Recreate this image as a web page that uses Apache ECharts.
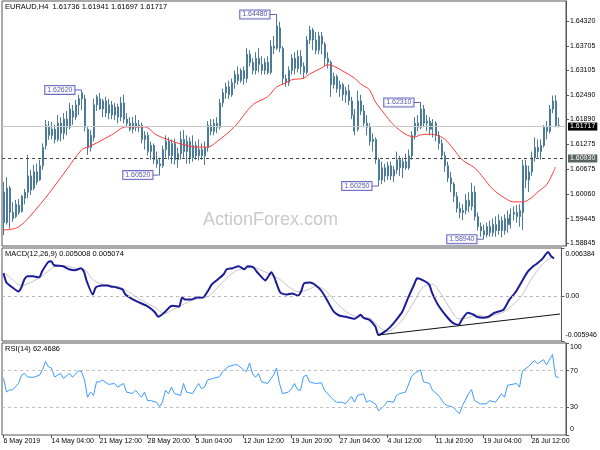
<!DOCTYPE html>
<html><head><meta charset="utf-8">
<script src="https://cdn.jsdelivr.net/npm/echarts@6/dist/echarts.min.js"></script>
<style>html,body{margin:0;padding:0;background:#fff}#c{width:600px;height:450px}</style>
</head><body><div id="c"></div><script>
// ---------- data ----------
const symbolName = 'EURAUD,H4';
const lastOHLC = ['1.61736', '1.61941', '1.61697', '1.61717'];
const macdTitle = 'MACD(12,26,9)';
const macdLast = ['0.005008', '0.005074'];
const rsiTitle = 'RSI(14)';
const rsiLast = '62.4686';
const watermark = 'ActionForex.com';

const xTickLabels = ['6 May 2019', '14 May 04:00', '21 May 12:00', '28 May 20:00', '5 Jun 04:00', '12 Jun 12:00',
  '19 Jun 20:00', '27 Jun 04:00', '4 Jul 12:00', '11 Jul 20:00', '19 Jul 04:00', '26 Jul 12:00'];
const barsPerLabel = 16;
const categoryCount = 188;

const priceTicks = [1.64320, 1.63705, 1.63105, 1.62490, 1.61890, 1.61275, 1.60675, 1.60060, 1.59445, 1.58845];
const priceMin = 1.58772, priceMax = 1.64813;
const levelLine = 1.60930;
const lastPrice = 1.61717;

const macdTicks = [-0.005946, 0, 0.006384];
const rsiTicks = [0, 30, 70, 100];
const rsiLevels = [30, 70];

// open, close, low, high
const ohlc = [
[1.6010,1.5935,1.5904,1.6035],[1.5935,1.6020,1.5930,1.6047],[1.6020,1.5960,1.5920,1.6025],[1.5960,1.5945,1.5937,1.5985],
[1.5950,1.5980,1.5946,1.5991],[1.5978,1.5960,1.5954,1.5993],[1.5962,1.6000,1.5960,1.6003],[1.5995,1.6010,1.5980,1.6018],
[1.6010,1.6050,1.5995,1.6102],[1.6050,1.6015,1.6003,1.6065],[1.6020,1.6060,1.6015,1.6077],[1.6060,1.6035,1.6028,1.6080],
[1.6040,1.6075,1.6038,1.6090],[1.6075,1.6120,1.6065,1.6130],[1.6125,1.6175,1.6115,1.6188],[1.6170,1.6150,1.6139,1.6185],
[1.6150,1.6165,1.6140,1.6183],[1.6165,1.6140,1.6130,1.6176],[1.6140,1.6180,1.6135,1.6200],[1.6180,1.6155,1.6135,1.6195],
[1.6155,1.6190,1.6140,1.6205],[1.6190,1.6170,1.6150,1.6210],[1.6170,1.6215,1.6165,1.6230],[1.6210,1.6195,1.6176,1.6225],
[1.6195,1.6225,1.6188,1.6237],[1.6225,1.6240,1.6200,1.6250],[1.6240,1.6255,1.6213,1.6262],[1.6240,1.6170,1.6160,1.6250],
[1.6165,1.6120,1.6102,1.6170],[1.6120,1.6150,1.6110,1.6163],[1.6145,1.6225,1.6135,1.6240],[1.6225,1.6245,1.6210,1.6250],
[1.6240,1.6215,1.6213,1.6255],[1.6215,1.6235,1.6195,1.6240],[1.6235,1.6205,1.6195,1.6245],[1.6205,1.6225,1.6190,1.6240],
[1.6225,1.6200,1.6190,1.6235],[1.6200,1.6220,1.6188,1.6230],[1.6220,1.6195,1.6180,1.6228],[1.6195,1.6230,1.6185,1.6245],
[1.6230,1.6190,1.6180,1.6250],[1.6190,1.6180,1.6172,1.6205],[1.6180,1.6165,1.6160,1.6195],[1.6165,1.6180,1.6155,1.6195],
[1.6180,1.6170,1.6160,1.6200],[1.6170,1.6175,1.6158,1.6188],[1.6175,1.6140,1.6130,1.6182],[1.6140,1.6150,1.6115,1.6160],
[1.6150,1.6110,1.6100,1.6158],[1.6110,1.6125,1.6090,1.6135],[1.6125,1.6090,1.6080,1.6130],[1.6090,1.6080,1.6070,1.6110],
[1.6080,1.6075,1.6052,1.6095],[1.6075,1.6115,1.6070,1.6125],[1.6115,1.6135,1.6095,1.6150],[1.6135,1.6100,1.6090,1.6145],
[1.6100,1.6130,1.6080,1.6140],[1.6130,1.6090,1.6078,1.6142],[1.6090,1.6105,1.6070,1.6120],[1.6105,1.6140,1.6090,1.6160],
[1.6140,1.6110,1.6095,1.6163],[1.6110,1.6135,1.6080,1.6150],[1.6135,1.6095,1.6080,1.6145],[1.6095,1.6125,1.6085,1.6150],
[1.6125,1.6100,1.6090,1.6135],[1.6100,1.6115,1.6088,1.6140],[1.6115,1.6100,1.6090,1.6130],[1.6100,1.6120,1.6077,1.6135],
[1.6120,1.6175,1.6110,1.6185],[1.6175,1.6160,1.6150,1.6190],[1.6160,1.6180,1.6150,1.6190],[1.6180,1.6170,1.6155,1.6195],
[1.6170,1.6230,1.6165,1.6240],[1.6230,1.6255,1.6220,1.6265],[1.6255,1.6270,1.6240,1.6280],[1.6270,1.6250,1.6240,1.6285],
[1.6250,1.6280,1.6245,1.6290],[1.6280,1.6300,1.6265,1.6310],[1.6300,1.6285,1.6275,1.6320],[1.6285,1.6310,1.6280,1.6315],
[1.6310,1.6290,1.6275,1.6320],[1.6290,1.6350,1.6280,1.6365],[1.6350,1.6330,1.6320,1.6360],[1.6330,1.6310,1.6300,1.6340],
[1.6310,1.6340,1.6300,1.6355],[1.6340,1.6325,1.6305,1.6365],[1.6325,1.6310,1.6300,1.6345],[1.6310,1.6330,1.6300,1.6340],
[1.6330,1.6305,1.6300,1.6345],[1.6305,1.6370,1.6300,1.6385],[1.6370,1.6365,1.6350,1.6395],[1.6365,1.6420,1.6360,1.6448],
[1.6415,1.6365,1.6355,1.6430],[1.6365,1.6290,1.6275,1.6370],[1.6290,1.6280,1.6270,1.6300],[1.6280,1.6310,1.6272,1.6320],
[1.6310,1.6340,1.6300,1.6350],[1.6340,1.6315,1.6300,1.6355],[1.6315,1.6345,1.6305,1.6360],[1.6345,1.6320,1.6300,1.6360],
[1.6320,1.6305,1.6290,1.6330],[1.6305,1.6385,1.6300,1.6395],[1.6385,1.6410,1.6375,1.6420],[1.6410,1.6385,1.6360,1.6415],
[1.6385,1.6360,1.6350,1.6405],[1.6360,1.6395,1.6350,1.6405],[1.6395,1.6375,1.6350,1.6405],[1.6375,1.6340,1.6320,1.6380],
[1.6340,1.6330,1.6315,1.6355],[1.6330,1.6275,1.6245,1.6335],[1.6275,1.6295,1.6265,1.6305],[1.6295,1.6265,1.6255,1.6300],
[1.6265,1.6275,1.6245,1.6285],[1.6275,1.6250,1.6235,1.6280],[1.6250,1.6260,1.6230,1.6270],[1.6260,1.6235,1.6225,1.6275],
[1.6235,1.6200,1.6190,1.6245],[1.6200,1.6160,1.6150,1.6215],[1.6165,1.6235,1.6160,1.6260],[1.6235,1.6210,1.6200,1.6250],
[1.6210,1.6180,1.6170,1.6225],[1.6180,1.6170,1.6150,1.6200],[1.6170,1.6135,1.6125,1.6180],[1.6135,1.6140,1.6110,1.6155],
[1.6140,1.6090,1.6080,1.6145],[1.6090,1.6040,1.6025,1.6095],[1.6040,1.6070,1.6030,1.6085],[1.6070,1.6050,1.6035,1.6080],
[1.6050,1.6075,1.6040,1.6085],[1.6075,1.6050,1.6040,1.6085],[1.6050,1.6065,1.6035,1.6075],[1.6065,1.6090,1.6055,1.6110],
[1.6090,1.6070,1.6050,1.6100],[1.6070,1.6085,1.6045,1.6095],[1.6085,1.6070,1.6065,1.6105],[1.6070,1.6100,1.6065,1.6115],
[1.6100,1.6150,1.6090,1.6160],[1.6150,1.6180,1.6140,1.6195],[1.6180,1.6170,1.6160,1.6200],[1.6170,1.6215,1.6165,1.6231],
[1.6215,1.6180,1.6170,1.6225],[1.6180,1.6185,1.6160,1.6200],[1.6185,1.6165,1.6150,1.6195],[1.6165,1.6180,1.6145,1.6190],
[1.6180,1.6150,1.6135,1.6185],[1.6150,1.6130,1.6115,1.6160],[1.6130,1.6100,1.6090,1.6140],[1.6100,1.6075,1.6060,1.6110],
[1.6075,1.6045,1.6035,1.6085],[1.6045,1.6030,1.6010,1.6060],[1.6030,1.6000,1.5985,1.6035],[1.6000,1.5970,1.5960,1.6010],
[1.5970,1.5960,1.5945,1.5985],[1.5960,1.5965,1.5941,1.5980],[1.5965,1.5990,1.5955,1.6005],[1.5990,1.5975,1.5960,1.6010],
[1.5975,1.6010,1.5965,1.6033],[1.6010,1.5950,1.5940,1.6025],[1.5950,1.5925,1.5915,1.5960],[1.5925,1.5915,1.5900,1.5935],
[1.5915,1.5905,1.5894,1.5930],[1.5905,1.5925,1.5898,1.5935],[1.5925,1.5910,1.5900,1.5940],[1.5910,1.5930,1.5900,1.5945],
[1.5930,1.5915,1.5900,1.5950],[1.5915,1.5940,1.5905,1.5955],[1.5940,1.5915,1.5898,1.5950],[1.5915,1.5945,1.5905,1.5955],
[1.5945,1.5930,1.5910,1.5965],[1.5930,1.5955,1.5920,1.5970],[1.5955,1.5960,1.5940,1.5975],[1.5960,1.5950,1.5935,1.5978],
[1.5950,1.5965,1.5925,1.5980],[1.5960,1.6075,1.5917,1.6090],[1.6075,1.6040,1.6020,1.6090],[1.6040,1.6060,1.6010,1.6075],
[1.6060,1.6095,1.6050,1.6110],[1.6095,1.6120,1.6085,1.6145],[1.6120,1.6110,1.6095,1.6140],[1.6110,1.6125,1.6090,1.6140],
[1.6125,1.6170,1.6120,1.6175],[1.6170,1.6160,1.6140,1.6185],[1.6160,1.6215,1.6155,1.6225],[1.6215,1.6235,1.6205,1.6248],
[1.6235,1.6174,1.6170,1.6249],[1.61736,1.61717,1.61697,1.61941]
];

// moving average [barIndex, price]
const maPts = [[0,1.5917],[5,1.5924],[12,1.5978],[16,1.6015],[21,1.6065],[26,1.6114],[28,1.6121],[31,1.6131],[36,1.6151],
[41,1.6171],[47,1.6171],[51,1.6151],[55,1.6139],[59,1.6129],[65,1.6121],[68,1.6121],[71,1.6134],[77,1.6171],[83,1.6225],
[88,1.6245],[91,1.6269],[94,1.6279],[96,1.6287],[100,1.6291],[102,1.6301],[106,1.6316],[108,1.6324],[110,1.6321],[113,1.6309],
[117,1.6291],[119,1.6277],[122,1.6262],[124,1.6232],[127,1.6203],[130,1.6176],[134,1.6153],[137,1.6146],[139,1.6151],[142,1.6153],
[144,1.6151],[147,1.6141],[150,1.6116],[153,1.6089],[157,1.6070],[160,1.6045],[163,1.6018],[167,1.5996],[170,1.5986],[173,1.5986],
[176,1.5996],[178,1.6010],[181,1.6028],[183,1.6055],[184,1.6072]];

// swing labels
const swingIdx = [26, 91, 52, 125, 139, 160];
const swingPrice = [1.62620, 1.64480, 1.60520, 1.60250, 1.62310, 1.58940];

// MACD main [barIndex, value]
const macdPts = [[0,0.00303],[1,0.00182],[3,0.00115],[5,0.00062],[6,0.00115],[7,0.00222],[8,0.00263],[10,0.00263],[12,0.00249],
[13,0.00330],[15,0.00450],[16,0.00464],[17,0.00410],[20,0.00397],[22,0.00357],[24,0.00343],[26,0.00370],[27,0.00330],[28,0.00196],
[30,0.00021],[31,0.00115],[33,0.00142],[35,0.00142],[36,0.00129],[38,0.00115],[40,0.00088],[41,0.00021],[43,-0.00032],[45,-0.00072],
[48,-0.00126],[50,-0.00180],[51,-0.00220],[52,-0.00273],[54,-0.00220],[56,-0.00139],[57,-0.00126],[59,-0.00139],[60,-0.00019],
[61,-0.00046],[63,-0.00046],[65,-0.00019],[67,-0.00019],[69,0.00088],[70,0.00155],[72,0.00222],[74,0.00290],[75,0.00357],
[77,0.00370],[79,0.00397],[81,0.00357],[82,0.00397],[84,0.00383],[85,0.00330],[88,0.00209],[89,0.00263],[90,0.00316],[91,0.00249],
[93,0.00048],[95,0.00021],[97,0.00035],[99,0.00008],[100,0.00062],[101,0.00169],[103,0.00182],[105,0.00142],[107,0.00062],
[109,-0.00072],[111,-0.00206],[113,-0.00260],[115,-0.00273],[118,-0.00300],[120,-0.00247],[121,-0.00287],[123,-0.00314],
[125,-0.00407],[126,-0.00515],[128,-0.00474],[130,-0.00407],[132,-0.00314],[134,-0.00206],[136,-0.00019],[138,0.00155],
[139,0.00236],[141,0.00209],[143,0.00155],[144,0.00048],[146,-0.00113],[149,-0.00273],[151,-0.00354],[153,-0.00381],
[154,-0.00314],[156,-0.00220],[158,-0.00247],[159,-0.00273],[161,-0.00287],[163,-0.00273],[165,-0.00220],[168,-0.00180],
[170,-0.00046],[172,0.00048],[174,0.00182],[176,0.00316],[178,0.00397],[179,0.00424],[181,0.00491],[183,0.00584],[184,0.00530],
[185,0.00501]];

// MACD signal [barIndex, value]
const signalPts = [[0,0.0032],[3,0.0022],[6,0.0014],[9,0.0018],[12,0.0024],[15,0.0033],[18,0.0040],[21,0.0040],[24,0.0037],
[27,0.0036],[30,0.0022],[33,0.0016],[36,0.0014],[39,0.0012],[42,0.0006],[45,-0.0002],[48,-0.0009],[51,-0.0015],[54,-0.0023],
[57,-0.0018],[60,-0.0012],[63,-0.0006],[66,-0.0003],[69,0.0000],[72,0.0012],[75,0.0024],[78,0.0033],[81,0.0037],[84,0.0038],
[87,0.0034],[90,0.0028],[93,0.0022],[96,0.0012],[99,0.0006],[102,0.0008],[105,0.0013],[108,0.0008],[111,-0.0005],[114,-0.0017],
[117,-0.0025],[120,-0.0028],[123,-0.0029],[126,-0.0040],[129,-0.0047],[132,-0.0040],[135,-0.0026],[138,-0.0007],[141,0.0012],
[144,0.0016],[147,0.0003],[150,-0.0016],[153,-0.0030],[156,-0.0029],[159,-0.0025],[162,-0.0027],[165,-0.0025],[168,-0.0021],
[171,-0.0012],[174,0.0000],[177,0.0020],[180,0.0037],[183,0.0049],[185,0.0051]];

// drawn MACD trend line
const macdTrend = [[126,-0.00515],[187,-0.00237]];

// RSI [barIndex, value]
const rsiPts = [[0,61.6],[1,46.7],[2,49],[3,49],[5,56],[6,65],[7,67],[8,63],[10,62.7],[12,65],[13,71],[14,80],[15,74],[16,72.7],
[17,63],[18,65],[19,67],[20,61.5],[22,67],[23,62.7],[25,69.7],[26,69],[27,59.7],[28,41],[29,46.7],[30,43],[31,57.8],[32,57.8],
[33,59.7],[35,55],[37,56],[38,52],[40,56],[41,46.7],[43,45],[44,48.6],[46,41],[47,46.7],[48,37.4],[49,37.4],[51,35.6],[52,30.8],
[53,35.6],[54,48.6],[55,45],[56,52],[57,45],[59,43],[60,56],[61,46.7],[63,45],[65,56],[66,50.4],[67,52],[68,59.7],[70,61.6],
[72,63.3],[73,69],[75,74.4],[77,76.3],[78,76.3],[80,70.8],[81,69],[82,78.2],[83,67],[84,62.7],[85,67],[86,57.8],[88,56],[90,65],
[91,72.7],[92,56],[93,45],[95,46.7],[96,50.4],[97,56],[98,49.3],[99,48.6],[100,63.3],[101,65.2],[102,57.8],[104,56],[106,56.7],
[107,48.6],[108,45],[110,38.2],[111,35.6],[113,35.6],[114,33.8],[116,41.9],[117,35.6],[118,43],[120,44.9],[121,35.6],[122,37.4],
[124,33.8],[125,26.3],[127,31.9],[128,36.7],[130,35.6],[131,43],[132,44.9],[134,46.7],[136,63.3],[137,67],[139,70.8],[140,57.8],
[142,56],[143,48.6],[145,43],[147,33.8],[148,31.9],[150,30],[151,26.3],[152,23.3],[153,31.9],[155,44.9],[156,49.3],[157,37.4],
[159,33.8],[161,33.8],[162,37.4],[164,35.6],[166,44.9],[167,41],[168,54],[171,56],[172,52],[173,69.7],[175,74.4],[177,81],
[178,77.4],[180,81.9],[181,76.3],[183,87.4],[184,63.5],[185,62.47]];

// ---------- chart ----------
const fontFam = 'Liberation Sans, Arial, sans-serif';
const barColor = '#4b7b98';
const cats = Array.from({length: categoryCount}, (_, i) => i);
const chart = echarts.init(document.getElementById('c'), null, {renderer: 'canvas'});

const gridBase = {left: 2, right: 34, show: true, borderColor: '#555', borderWidth: 1, backgroundColor: '#fff'};
const hiddenX = (g) => ({type: 'category', gridIndex: g, data: cats, boundaryGap: true,
  axisLine: {show: false}, axisTick: {show: false}, axisLabel: {show: false}, splitLine: {show: false}});
const edgeRich = {
  top: {fontSize: 7, color: '#000', fontFamily: fontFam, padding: [12, 0, 0, 0]},
  bot: {fontSize: 7, color: '#000', fontFamily: fontFam, padding: [0, 0, 12, 0]},
  top8: {fontSize: 7, color: '#000', fontFamily: fontFam, padding: [8, 0, 0, 0]}
};
const yBase = (g, min, max, ticks, fmt) => ({
  type: 'value', gridIndex: g, position: 'right', min: min, max: max,
  splitLine: {show: false},
  axisLine: {show: true, lineStyle: {color: '#555'}},
  axisTick: {show: true, length: 3, customValues: ticks, lineStyle: {color: '#555'}},
  axisLabel: {show: true, customValues: ticks, formatter: fmt, fontSize: 7, color: '#000', margin: 4, fontFamily: fontFam, rich: edgeRich}
});

const labelFont = {fontSize: 7.5, fontWeight: 'normal', color: '#000', fontFamily: fontFam};

const option = {
  animation: false,
  backgroundColor: '#fff',
  title: [
    {text: symbolName + '  ' + lastOHLC.join(' '), left: 5, top: 3, padding: 0, textStyle: labelFont},
    {text: macdTitle + ' ' + macdLast.join(' '), left: 5, top: 250, padding: 0, textStyle: labelFont},
    {text: rsiTitle + ' ' + rsiLast, left: 5, top: 345, padding: 0, textStyle: labelFont}
  ],
  graphic: [{type: 'text', left: 203, top: 211, z: 0, silent: true,
    style: {text: watermark, fill: '#c9c9c9', font: '18px Liberation Sans, Arial, sans-serif'}}],
  grid: [
    Object.assign({top: 1, height: 245}, gridBase),
    Object.assign({top: 248, height: 93}, gridBase),
    Object.assign({top: 343, height: 92}, gridBase)
  ],
  xAxis: [
    hiddenX(0), hiddenX(1),
    Object.assign(hiddenX(2), {
      axisTick: {show: true, interval: barsPerLabel - 1, alignWithLabel: true, length: 3, lineStyle: {color: '#555'}},
      axisLabel: {show: true, interval: barsPerLabel - 1, align: 'left', margin: 3, fontSize: 7, color: '#000', fontFamily: fontFam,
        formatter: (v, idx) => idx % barsPerLabel === 0 ? (xTickLabels[idx / barsPerLabel] || '') : ''}
    })
  ],
  yAxis: [
    yBase(0, priceMin, priceMax, priceTicks, v => v.toFixed(5)),
    yBase(1, macdTicks[0], macdTicks[2], macdTicks, v => {
      if (v === 0) return '0.00';
      if (v === macdTicks[2]) return '{top|' + v.toFixed(6) + '}';
      return '{bot|' + v.toFixed(6) + '}';
    }),
    yBase(2, 0, 100, rsiTicks, v => v === 100 ? '{top8|100}' : (v === 0 ? '{bot|0}' : String(v)))
  ],
  series: [
    {
      type: 'candlestick', xAxisIndex: 0, yAxisIndex: 0, data: ohlc, barWidth: 1.5, silent: true,
      itemStyle: {color: barColor, color0: barColor, borderColor: barColor, borderColor0: barColor, borderWidth: 1},
      markLine: {
        silent: true, symbol: ['none', 'none'], animation: false, precision: 5,
        data: [
          {yAxis: lastPrice, lineStyle: {color: '#c8c8c8', type: 'solid', width: 1},
            label: {position: 'end', distance: 2, formatter: () => lastPrice.toFixed(5), color: '#fff', backgroundColor: '#000',
              padding: [1, 2, 0, 2], fontSize: 7, fontFamily: fontFam}},
          {yAxis: levelLine, lineStyle: {color: '#444', type: [3, 3], width: 1},
            label: {position: 'end', distance: 2, formatter: () => levelLine.toFixed(5), color: '#fff', backgroundColor: '#586461',
              padding: [1, 2, 0, 2], fontSize: 7, fontFamily: fontFam}}
        ]
      }
    },
    {type: 'line', xAxisIndex: 0, yAxisIndex: 0, data: maPts, showSymbol: false, smooth: 0.35, silent: true,
      lineStyle: {color: '#ff3b3b', width: 1}, z: 3},
    {type: 'scatter', xAxisIndex: 0, yAxisIndex: 0, silent: true, z: 6,
      data: swingIdx.map((i, k) => [i, swingPrice[k]]),
      symbol: 'rect', symbolSize: [7, 1], symbolOffset: [-3.5, 0], itemStyle: {color: '#3c3ca8'},
      label: {show: true, position: 'left', distance: 0, formatter: p => swingPrice[p.dataIndex].toFixed(5),
        color: '#2b2b8f', fontSize: 7, fontFamily: fontFam, backgroundColor: '#fff', borderColor: '#4646b4', borderWidth: 1,
        padding: [1, 2, 0, 2]}},
    {type: 'line', xAxisIndex: 1, yAxisIndex: 1, data: signalPts, showSymbol: false, smooth: 0.3, silent: true,
      lineStyle: {color: '#c4c4c4', width: 1},
      markLine: {silent: true, symbol: ['none', 'none'], label: {show: false}, precision: 6,
        data: [{yAxis: 0, lineStyle: {color: '#bbb', type: [3, 3], width: 1}}]}},
    {type: 'line', xAxisIndex: 1, yAxisIndex: 1, data: macdPts, showSymbol: false, smooth: 0.2, silent: true,
      lineStyle: {color: '#1c1c98', width: 2}, z: 4},
    {type: 'line', xAxisIndex: 1, yAxisIndex: 1, data: macdTrend, showSymbol: false, silent: true,
      lineStyle: {color: '#111', width: 1}, z: 5},
    {type: 'line', xAxisIndex: 2, yAxisIndex: 2, data: rsiPts, showSymbol: false, silent: true,
      lineStyle: {color: '#3d9bff', width: 1},
      markLine: {silent: true, symbol: ['none', 'none'], label: {show: false},
        data: rsiLevels.map(v => ({yAxis: v, lineStyle: {color: '#c0c0c0', type: [3, 3], width: 1}}))}}
  ]
};
chart.setOption(option);
</script></body></html>
